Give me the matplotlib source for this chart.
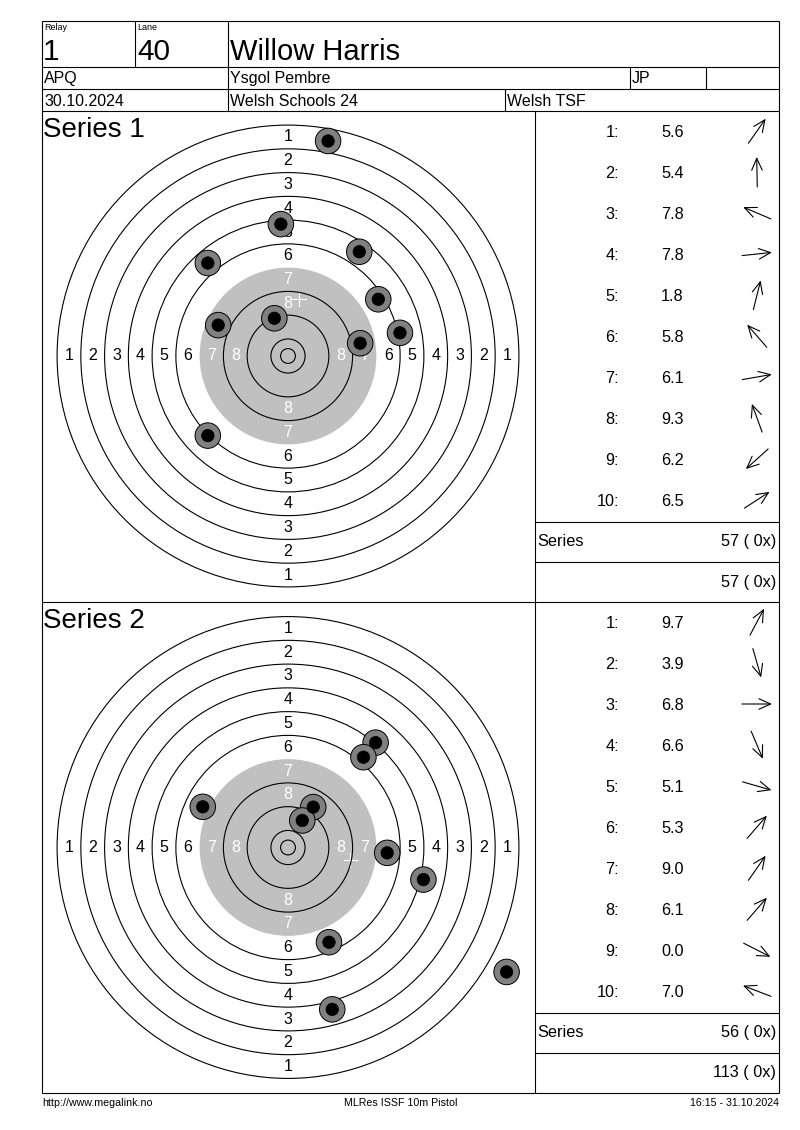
import matplotlib
matplotlib.use("Agg")
import matplotlib.pyplot as plt
import numpy as np
from matplotlib.patches import Circle

plt.rcParams['font.family'] = ['Liberation Sans', 'DejaVu Sans']

# ---------------- data ----------------
relay = "1"
lane = "40"
shooter = "Willow Harris"
klass = "APQ"
club = "Ysgol Pembre"
initials = "JP"
date = "30.10.2024"
competition = "Welsh Schools 24"
organiser = "Welsh TSF"
footer_left = "http://www.megalink.no"
footer_mid = "MLRes ISSF 10m Pistol"
footer_right = "16:15 - 31.10.2024"

series_names = ["Series 1", "Series 2"]

# shot positions in mm from target centre (x right, y up)
s1_x = [13.5, -2.4, 24.0, -27.0, 30.4, 37.7, -23.5, -4.6, 24.3, -27.0]
s1_y = [72.4, 44.4, 35.1, 31.3, 19.1, 7.8, 10.4, 12.7, 4.3, -26.8]
s2_x = [29.5, 25.4, -28.7, 8.5, 4.8, 33.4, 45.6, 13.8, 73.6, 14.9]
s2_y = [35.3, 30.4, 13.7, 13.6, 9.1, -1.8, -10.8, -31.9, -41.9, -54.5]

# mean point markers (mm)
s1_mean = (3.7, 19.2)
s2_mean = (21.0, -4.2)

s1_scores = [5.6, 5.4, 7.8, 7.8, 1.8, 5.8, 6.1, 9.3, 6.2, 6.5]
s2_scores = [9.7, 3.9, 6.8, 6.6, 5.1, 5.3, 9.0, 6.1, 0.0, 7.0]

# direction arrows (degrees, counter-clockwise from right)
s1_dirs = [55, 91, 157, 6, 76, 131, 10, 110, 222, 33]
s2_dirs = [62, -74, 0, -67, -16, 49, 55, 49, -27, 159]

series_totals = [57, 56]
running_totals = [57, 113]
inner_tens = [0, 0]

# ISSF 10 m pistol ring diameters (mm), rings 1..10 and inner ten
ring_diam = [155.5, 139.5, 123.5, 107.5, 91.5, 75.5, 59.5, 43.5, 27.5, 11.5, 5.0]
ring_labels = [1, 2, 3, 4, 5, 6, 7, 8]

# ---------------- layout ----------------
W, H = 800, 1130
fig = plt.figure(figsize=(W / 100, H / 100), dpi=100)
fig.patch.set_facecolor('white')
bg = fig.add_axes([0, 0, 1, 1])
bg.set_xlim(0, W)
bg.set_ylim(H, 0)
bg.axis('off')

LW = 0.8
def hl(y, x0, x1):
    bg.plot([x0, x1], [y, y], color='black', lw=LW, solid_capstyle='butt')
def vl(x, y0, y1):
    bg.plot([x, x], [y0, y1], color='black', lw=LW, solid_capstyle='butt')

L, R = 42, 779
TOP, BOT = 21, 1093
hl(TOP, L, R); hl(66.5, L, R); hl(88.5, L, R); hl(111, L, R)
hl(602, L, R); hl(BOT, L, R)
vl(L, TOP, BOT); vl(R, TOP, BOT)
vl(135, TOP, 66.5); vl(228, TOP, 111)
vl(630, 66.5, 88.5); vl(706, 66.5, 88.5); vl(505, 88.5, 111)
vl(535, 111, BOT)

# header texts
bg.text(44, 22.5, "Relay", fontsize=6.5, va='top', ha='left')
bg.text(137, 22.5, "Lane", fontsize=6.5, va='top', ha='left')
bg.text(43, 60, relay, fontsize=21.5, va='baseline', ha='left')
bg.text(137, 60, lane, fontsize=21.5, va='baseline', ha='left')
bg.text(230, 60, shooter, fontsize=21, va='baseline', ha='left')
bg.text(44, 83, klass, fontsize=11.5, va='baseline', ha='left')
bg.text(230, 83, club, fontsize=11.5, va='baseline', ha='left')
bg.text(632, 83, initials, fontsize=11.5, va='baseline', ha='left')
bg.text(44, 106, date, fontsize=11.5, va='baseline', ha='left')
bg.text(230, 106, competition, fontsize=11.5, va='baseline', ha='left')
bg.text(507, 106, organiser, fontsize=11.5, va='baseline', ha='left')

# footer
bg.text(42, 1106, footer_left, fontsize=7.7, va='baseline', ha='left')
bg.text(401, 1106, footer_mid, fontsize=7.7, va='baseline', ha='center')
bg.text(779, 1106, footer_right, fontsize=7.7, va='baseline', ha='right')

SCALE = 2.97  # px per mm
panel_tops = [111, 602]
panel_h = 491
centres = [(288, 356), (288, 847.5)]
shots_x = [s1_x, s2_x]
shots_y = [s1_y, s2_y]
means = [s1_mean, s2_mean]
scores = [s1_scores, s2_scores]
dirs = [s1_dirs, s2_dirs]

for p in range(2):
    top = panel_tops[p]
    cx, cy = centres[p]
    ax = fig.add_axes([L / W, 1 - (top + panel_h) / H, (535 - L) / W, panel_h / H])
    ax.set_xlim((L - cx) / SCALE, (535 - cx) / SCALE)
    ax.set_ylim((cy - (top + panel_h)) / SCALE, (cy - top) / SCALE)
    ax.axis('off')

    radii = [d / 2 for d in ring_diam]
    # aiming area = ring 7 and inwards
    ax.add_patch(Circle((0, 0), radii[6], facecolor='#c0c0c0', edgecolor='none', zorder=1))
    # mean point marker
    mx, my = means[p]
    ax.plot([mx - 2.2, mx + 2.2], [my, my], color='white', lw=LW, zorder=1.5)
    ax.plot([mx, mx], [my - 2.2, my + 2.2], color='white', lw=LW, zorder=1.5)
    for i, r in enumerate(radii):
        if i == 6:
            continue
        ax.add_patch(Circle((0, 0), r, facecolor='none', edgecolor='black', lw=LW, zorder=2))
    for k in ring_labels:
        rr = (radii[k - 1] + radii[k]) / 2
        col = 'white' if k >= 7 else 'black'
        for (ux, uy) in [(0, 1), (0, -1), (1, 0), (-1, 0)]:
            ax.text(ux * rr, uy * rr, str(k), color=col, fontsize=11.5,
                    ha='center', va='center', zorder=3)
    for sx, sy in zip(shots_x[p], shots_y[p]):
        ax.add_patch(Circle((sx, sy), 4.3, facecolor='#808080', edgecolor='black', lw=0.7, zorder=4))
        ax.add_patch(Circle((sx, sy), 2.1, facecolor='black', edgecolor='black', lw=0.5, zorder=5))

    # series title
    bg.text(43, top + 26, series_names[p], fontsize=20, va='baseline', ha='left')

    # shot list
    for i in range(10):
        by = top + 26 + 41 * i
        bg.text(619, by, f"{i + 1}:", fontsize=11.7, va='baseline', ha='right')
        bg.text(661, by, f"{scores[p][i]:.1f}", fontsize=11.7, va='baseline', ha='left')
        a = np.deg2rad(dirs[p][i])
        acx, acy = 757, by - 6
        half = 15
        tail = (acx - half * np.cos(a), acy + half * np.sin(a))
        head = (acx + half * np.cos(a), acy - half * np.sin(a))
        bg.annotate('', xy=head, xytext=tail,
                    arrowprops=dict(arrowstyle='->,head_length=0.85,head_width=0.38',
                                    lw=0.8, color='black', shrinkA=0, shrinkB=0,
                                    mutation_scale=10))
    # totals
    hl(top + 410.5, 535, R)
    hl(top + 451, 535, R)
    bg.text(537, top + 435, "Series", fontsize=11.7, va='baseline', ha='left')
    bg.text(776, top + 435, f"{series_totals[p]} ( {inner_tens[p]}x)", fontsize=11.7,
            va='baseline', ha='right')
    bg.text(776, top + 475.5, f"{running_totals[p]} ( {inner_tens[p]}x)", fontsize=11.7,
            va='baseline', ha='right')

fig.savefig("out.png", dpi=100, facecolor='white')
